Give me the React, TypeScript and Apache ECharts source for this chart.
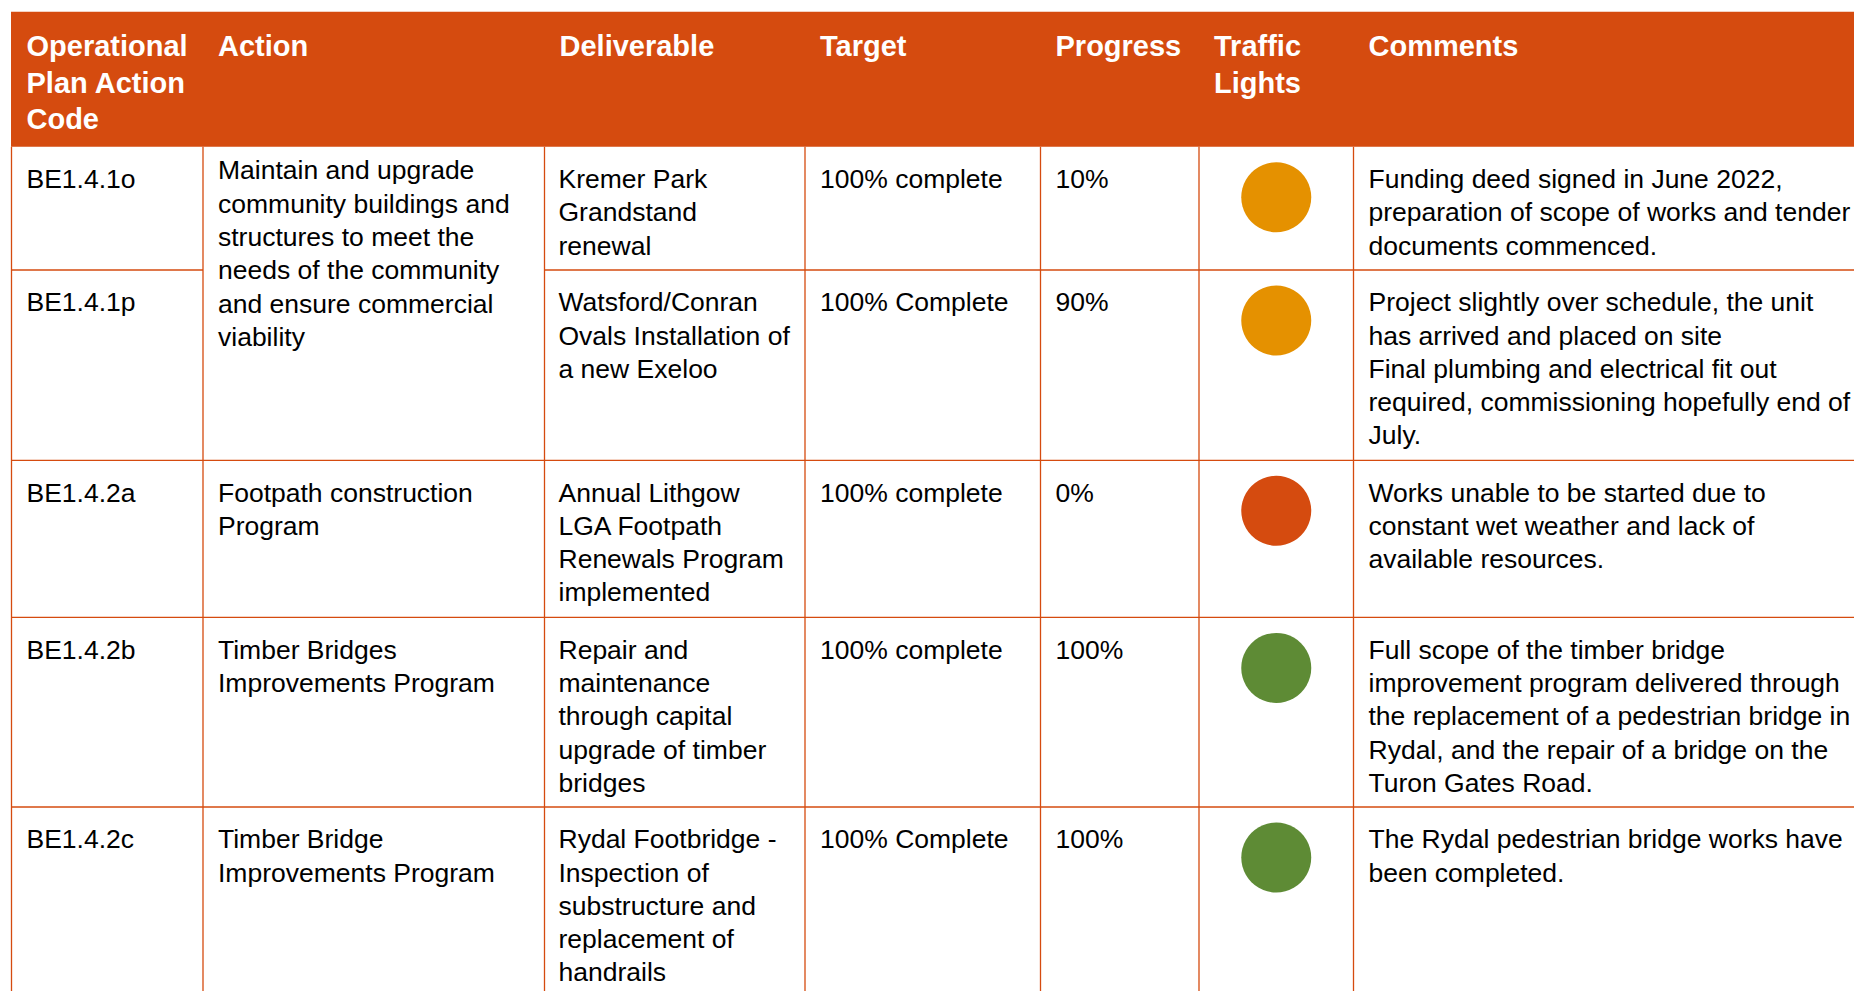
import React, { useEffect, useRef } from "react";
import * as echarts from "echarts";

// ---- Table content ----
const headers = [
  "Operational\nPlan Action\nCode",
  "Action",
  "Deliverable",
  "Target",
  "Progress",
  "Traffic\nLights",
  "Comments",
];
const codes = ["BE1.4.1o", "BE1.4.1p", "BE1.4.2a", "BE1.4.2b", "BE1.4.2c"];
const actions = [
  "Maintain and upgrade\ncommunity buildings and\nstructures to meet the\nneeds of the community\nand ensure commercial\nviability",
  "Footpath construction\nProgram",
  "Timber Bridges\nImprovements Program",
  "Timber Bridge\nImprovements Program",
];
const actionRowSpans = [2, 1, 1, 1];
const deliverables = [
  "Kremer Park\nGrandstand\nrenewal",
  "Watsford/Conran\nOvals Installation of\na new Exeloo",
  "Annual Lithgow\nLGA Footpath\nRenewals Program\nimplemented",
  "Repair and\nmaintenance\nthrough capital\nupgrade of timber\nbridges",
  "Rydal Footbridge -\nInspection of\nsubstructure and\nreplacement of\nhandrails",
];
const targets = ["100% complete", "100% Complete", "100% complete", "100% complete", "100% Complete"];
const progress = ["10%", "90%", "0%", "100%", "100%"];
const lights = ["amber", "amber", "red", "green", "green"];
const comments = [
  "Funding deed signed in June 2022,\npreparation of scope of works and tender\ndocuments commenced.",
  "Project slightly over schedule, the unit\nhas arrived and placed on site\nFinal plumbing and electrical fit out\nrequired, commissioning hopefully end of\nJuly.",
  "Works unable to be started due to\nconstant wet weather and lack of\navailable resources.",
  "Full scope of the timber bridge\nimprovement program delivered through\nthe replacement of a pedestrian bridge in\nRydal, and the repair of a bridge on the\nTuron Gates Road.",
  "The Rydal pedestrian bridge works have\nbeen completed.",
];

// ---- Layout ----
const colX = [11.5, 203, 544.5, 805, 1040.5, 1199, 1353.5, 2200];
const rowY = [11.7, 146.7, 270, 460.3, 617.4, 807, 1200];
const ORANGE = "#D54B0F";
const LIGHT_COLORS: Record<string, string> = { amber: "#E59100", red: "#D54B0F", green: "#5E8B35" };
const FONT = "'Liberation Sans', Arial, Helvetica, sans-serif";
const BODY_SIZE = 26.5;
const BODY_LH = 33.3;
const HEAD_SIZE = 29;
const HEAD_LH = 36.5;
const PAD_X = 15;

function buildGraphic() {
  const els: any[] = [];
  // header background
  els.push({
    type: "rect",
    shape: { x: colX[0] - 0.5, y: rowY[0], width: 2200, height: rowY[1] - rowY[0] },
    style: { fill: ORANGE },
    silent: true,
  });
  headers.forEach((h, i) => {
    els.push({
      type: "text",
      x: colX[i] + PAD_X,
      y: 46 - HEAD_LH / 2,
      style: {
        text: h,
        fill: "#ffffff",
        fontFamily: FONT,
        fontWeight: "bold",
        fontSize: HEAD_SIZE,
        lineHeight: HEAD_LH,
        verticalAlign: "top",
        align: "left",
      },
    });
  });

  const bodyText = (txt: string, x: number, y: number) => ({
    type: "text",
    x,
    y,
    style: {
      text: txt,
      fill: "#000000",
      fontFamily: FONT,
      fontSize: BODY_SIZE,
      lineHeight: BODY_LH,
      verticalAlign: "top",
      align: "left",
    },
  });

  const firstLineOffset = 32.3 - BODY_LH / 2;
  codes.forEach((c, r) => {
    const top = rowY[r + 1];
    els.push(bodyText(c, colX[0] + PAD_X, top + firstLineOffset));
    els.push(bodyText(deliverables[r], colX[2] + PAD_X - 1, top + firstLineOffset));
    els.push(bodyText(targets[r], colX[3] + PAD_X, top + firstLineOffset));
    els.push(bodyText(progress[r], colX[4] + PAD_X, top + firstLineOffset));
    els.push(bodyText(comments[r], colX[6] + PAD_X, top + firstLineOffset));
    els.push({
      type: "circle",
      shape: { cx: (colX[5] + colX[6]) / 2, cy: top + 50.5, r: 35 },
      style: { fill: LIGHT_COLORS[lights[r]] },
    });
  });

  // action column (with merged cells)
  let rIdx = 0;
  actions.forEach((a, i) => {
    const top = rowY[rIdx + 1];
    const off = actionRowSpans[i] > 1 ? 23.8 - BODY_LH / 2 : firstLineOffset;
    els.push(bodyText(a, colX[1] + PAD_X, top + off));
    rIdx += actionRowSpans[i];
  });

  // grid lines
  const lineStyle = { stroke: ORANGE, lineWidth: 1.3 };
  for (let r = 2; r < rowY.length - 1; r++) {
    const y = rowY[r];
    if (r === 2) {
      els.push({ type: "line", shape: { x1: colX[0], y1: y, x2: colX[1], y2: y }, style: lineStyle });
      els.push({ type: "line", shape: { x1: colX[2], y1: y, x2: 2200, y2: y }, style: lineStyle });
    } else {
      els.push({ type: "line", shape: { x1: colX[0], y1: y, x2: 2200, y2: y }, style: lineStyle });
    }
  }
  for (let c = 0; c < colX.length - 1; c++) {
    els.push({
      type: "line",
      shape: { x1: colX[c], y1: rowY[1], x2: colX[c], y2: 1200 },
      style: lineStyle,
    });
  }
  return els;
}

export default function App() {
  const ref = useRef<HTMLDivElement>(null);
  useEffect(() => {
    if (!ref.current) return;
    const chart = echarts.init(ref.current, undefined, { renderer: "svg" });
    chart.setOption({
      animation: false,
      backgroundColor: "#ffffff",
      graphic: { elements: buildGraphic() },
    });
    return () => chart.dispose();
  }, []);
  return (
    <div
      ref={ref}
      style={{ position: "fixed", left: 0, top: 0, width: 1854, height: 991, background: "#fff" }}
    />
  );
}
